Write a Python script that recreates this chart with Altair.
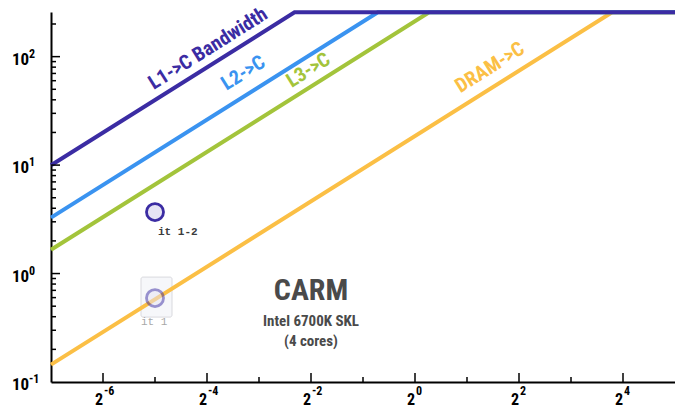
import altair as alt
import pandas as pd

# ---------------- data ----------------
series = ["DRAM->C", "L3->C", "L2->C", "L1->C Bandwidth"]
bandwidth = [18.5, 212.0, 420.0, 1275.0]          # GB/s
peak = 256.0                                        # GFLOP/s
colors = ["#fbbf45", "#a3c43b", "#3a93f0", "#3b2ca3"]
x_min, x_max = 2 ** -7, 2 ** 5
y_min, y_max = 0.1, 258.0

label_x = [2 ** 1.0, 2 ** -2.28, 2 ** -3.48, 2 ** -4.93]
label_dy = [-12, -9, -14, -9]

point_names = ["it 1", "it 1-2"]
point_x = [2 ** -5, 2 ** -5]
point_y = [0.594, 3.69]
point_opacity = [0.5, 1.0]

x_major_exp = [-6, -4, -2, 0, 2, 4]
x_minor_exp = [-5, -3, -1, 1, 3]
y_major = [0.1, 1, 10, 100]
y_major_exp = [-1, 0, 1, 2]
y_minor = [m * d for d in [0.1, 1, 10] for m in range(2, 10)] + [200]

title_lines = ["CARM", "Intel 6700K SKL", "(4 cores)"]
title_y = [0.69, 0.369, 0.239]
title_size = [30, 15, 15]
title_x = 0.25

FONT = "Liberation Sans Narrow, Roboto Condensed, DejaVu Sans Condensed, Arial Narrow, sans-serif"
MONO = "Liberation Mono, DejaVu Sans Mono, monospace"

# ---------------- tables ----------------
rows = []
for s, bw in zip(series, bandwidth):
    rows.append({"series": s, "x": x_min, "y": bw * x_min, "o": 0})
    rows.append({"series": s, "x": peak / bw, "y": peak, "o": 1})
    rows.append({"series": s, "x": x_max, "y": peak, "o": 2})
lines_df = pd.DataFrame(rows)

labels_df = pd.DataFrame({
    "series": series,
    "x": label_x,
    "y": [bw * lx for bw, lx in zip(bandwidth, label_x)],
})

pts_df = pd.DataFrame({"name": point_names, "x": point_x, "y": point_y, "op": point_opacity})

xlab_df = pd.DataFrame({"x": [2.0 ** e for e in x_major_exp], "base": "2", "exp": [str(e) for e in x_major_exp]})
ylab_df = pd.DataFrame({"y": y_major, "base": "10", "exp": [str(e) for e in y_major_exp]})

xscale = alt.Scale(type="log", base=2, domain=[x_min, x_max], nice=False)
yscale = alt.Scale(type="log", base=10, domain=[y_min, y_max], nice=False)
cscale = alt.Scale(domain=series, range=colors)

x_axis = alt.Axis(values=[2.0 ** e for e in x_major_exp], labels=False, ticks=False, grid=False,
                  title=None, domainColor="black", domainWidth=2)
y_axis = alt.Axis(values=y_major, labels=False, ticks=False, grid=False,
                  title=None, domainColor="black", domainWidth=2)


def X(field):
    return alt.X(field, scale=xscale, axis=x_axis, title=None)


def Y(field):
    return alt.Y(field, scale=yscale, axis=y_axis, title=None)


# inward ticks
ymaj = alt.Chart(pd.DataFrame({"y": y_major[1:]})).mark_rule(color="black", strokeWidth=1.5).encode(
    y=Y("y:Q"), x=alt.value(0), x2=alt.value(9))
ymin = alt.Chart(pd.DataFrame({"y": y_minor})).mark_rule(color="black", strokeWidth=1.5).encode(
    y=Y("y:Q"), x=alt.value(0), x2=alt.value(5))
xmaj = alt.Chart(pd.DataFrame({"x": [2.0 ** e for e in x_major_exp]})).mark_rule(color="black", strokeWidth=1.5).encode(
    x=X("x:Q"), y=alt.value(370), y2=alt.value(361))
xmin = alt.Chart(pd.DataFrame({"x": [2.0 ** e for e in x_minor_exp]})).mark_rule(color="black", strokeWidth=1.5).encode(
    x=X("x:Q"), y=alt.value(370), y2=alt.value(365))

# tick labels with raised exponents
xbase = alt.Chart(xlab_df).mark_text(align="right", baseline="middle", dx=0, font=FONT, fontSize=16,
                                     fontWeight="bold", color="black").encode(
    x=X("x:Q"), y=alt.value(388), text="base:N")
xexp = alt.Chart(xlab_df).mark_text(align="left", baseline="middle", dx=1, font=FONT, fontSize=12,
                                    fontWeight="bold", color="black").encode(
    x=X("x:Q"), y=alt.value(379), text="exp:N")
ybase = alt.Chart(ylab_df).mark_text(align="left", baseline="middle", dy=3, font=FONT, fontSize=17,
                                     fontWeight="bold", color="black").encode(
    y=Y("y:Q"), x=alt.value(-39), text="base:N")
yexp = alt.Chart(ylab_df).mark_text(align="left", baseline="middle", dy=-3, font=FONT, fontSize=12,
                                    fontWeight="bold", color="black").encode(
    y=Y("y:Q"), x=alt.value(-22), text="exp:N")

# highlight box around "it 1"
box = alt.Chart(pts_df[pts_df["name"] == "it 1"]).mark_rect(
    fill="#f6f7fa", stroke="#d9d9de", strokeWidth=1, cornerRadius=2,
    xOffset=-14, x2Offset=17, yOffset=-21, y2Offset=19,
).encode(x=X("x:Q"), x2="x:Q", y=Y("y:Q"), y2="y:Q")

line_layers = []
for s in series:
    line_layers.append(
        alt.Chart(lines_df[lines_df["series"] == s]).mark_line(strokeWidth=4, strokeCap="butt").encode(
            x=X("x:Q"), y=Y("y:Q"),
            color=alt.Color("series:N", scale=cscale, legend=None),
            order="o:Q",
        )
    )

label_layers = []
for s, dy in zip(series, label_dy):
    label_layers.append(
        alt.Chart(labels_df[labels_df["series"] == s]).mark_text(
            angle=327.8, align="left", baseline="alphabetic", dy=dy,
            font=FONT, fontSize=20, fontWeight="bold",
        ).encode(
            x=X("x:Q"), y=Y("y:Q"), text="series:N",
            color=alt.Color("series:N", scale=cscale, legend=None),
        )
    )

circles = alt.Chart(pts_df).mark_point(
    shape="circle", size=290, filled=True, fill="#e6e4f4",
    stroke="#3b2ca3", strokeWidth=2.8,
).encode(
    x=X("x:Q"), y=Y("y:Q"),
    opacity=alt.Opacity("op:Q", scale=None, legend=None),
)

pt_label_main = alt.Chart(pts_df[pts_df["name"] == "it 1-2"]).mark_text(
    align="left", baseline="middle", dx=3, dy=20, font=MONO,
    fontSize=11, fontWeight="bold", color="#3c3c3c",
).encode(x=X("x:Q"), y=Y("y:Q"), text="name:N")

pt_label_faint = alt.Chart(pts_df[pts_df["name"] == "it 1"]).mark_text(
    align="left", baseline="middle", dx=-14, dy=24, font=MONO,
    fontSize=11, color="#a8a8a8",
).encode(x=X("x:Q"), y=Y("y:Q"), text="name:N")

title_df = pd.DataFrame({"t": title_lines, "x": [title_x] * 3, "y": title_y, "s": title_size})
title_layer = alt.Chart(title_df).mark_text(
    align="center", baseline="middle", font=FONT, fontWeight="bold", color="#4a4a4a",
).encode(
    x=X("x:Q"), y=Y("y:Q"), text="t:N",
    size=alt.Size("s:Q", scale=None, legend=None),
)

chart = alt.layer(
    box, *line_layers, ymaj, ymin, xmaj, xmin, xbase, xexp, ybase, yexp, *label_layers,
    circles, pt_label_main, pt_label_faint, title_layer,
).properties(
    width=624, height=370,
    autosize=alt.AutoSizeParams(type="none"),
    padding={"left": 51, "top": 12, "right": 0, "bottom": 26},
    background="white",
).configure_view(stroke=None)

chart.save("out.html", embed_options={"renderer": "svg", "actions": False})
